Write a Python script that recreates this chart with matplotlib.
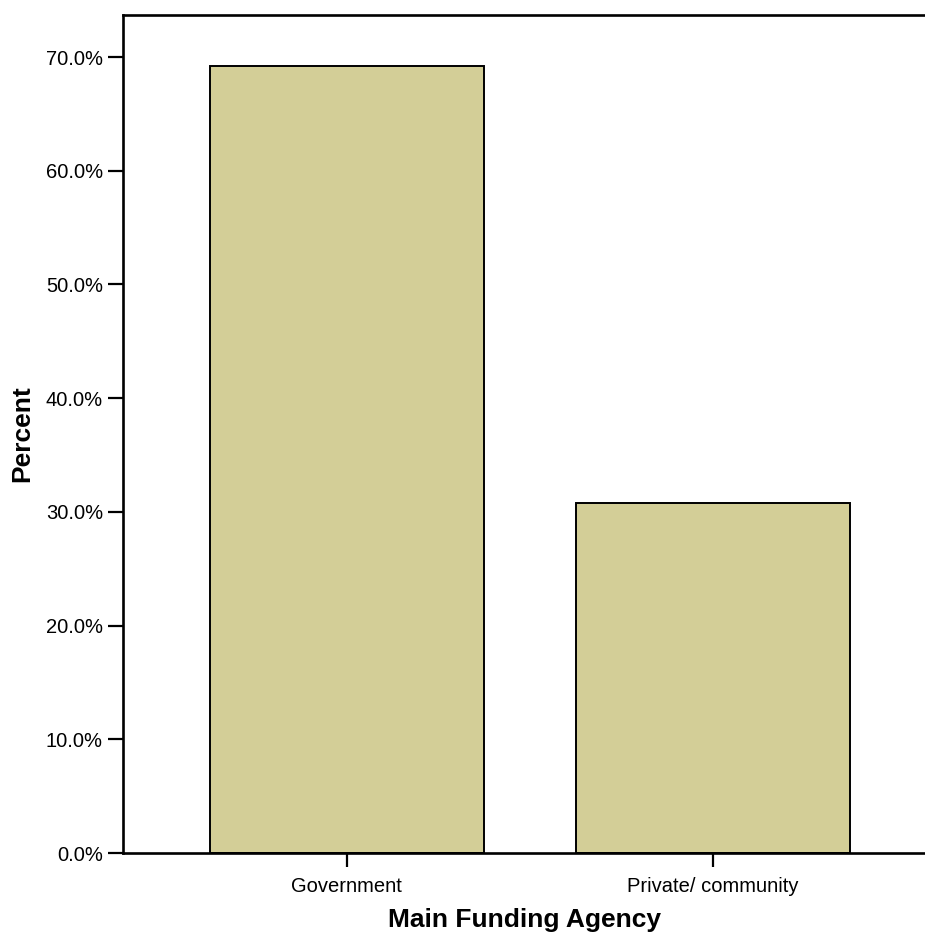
import matplotlib.pyplot as plt
from matplotlib.ticker import FuncFormatter

plt.rcParams['font.family'] = ['Liberation Sans', 'DejaVu Sans']

# data
categories = ["Government", "Private/ community"]
percents = [69.2, 30.8]
yticks = [0, 10, 20, 30, 40, 50, 60, 70]

fig = plt.figure(figsize=(9.25, 9.33), dpi=100)
ax = fig.add_axes([0.133, 0.0857, 0.867, 0.8983])

x = range(len(categories))
ax.bar(x, percents, width=0.75, color='#D3CE97', edgecolor='black', linewidth=1.4, zorder=2)

ax.set_xlim(-0.612, 1.58)
ax.set_ylim(0, 73.7)
ax.set_xticks(list(x))
ax.set_xticklabels(categories)
ax.set_yticks(yticks)
ax.yaxis.set_major_formatter(FuncFormatter(lambda v, p: f"{v:.1f}%"))

# spines
ax.spines['right'].set_visible(False)
for s in ['left', 'bottom', 'top']:
    ax.spines[s].set_linewidth(1.9)

ax.tick_params(axis='y', length=11, width=1.6, pad=3.5, labelsize=14.5)
ax.tick_params(axis='x', length=10, width=1.6, pad=7, labelsize=14.5)

ax.set_xlabel('Main Funding Agency', fontsize=19, fontweight='bold', labelpad=9)
ax.set_ylabel('Percent', fontsize=19, fontweight='bold', labelpad=8)

fig.savefig('out.png', dpi=100)
